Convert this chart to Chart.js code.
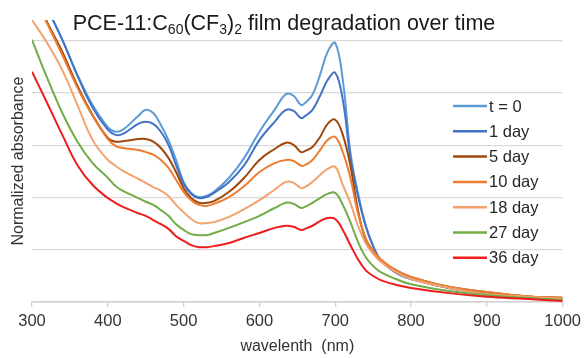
<!DOCTYPE html>
<html>
<head>
<meta charset="utf-8">
<script src="https://cdn.jsdelivr.net/npm/chart.js@4/dist/chart.umd.min.js"></script>
<style>
    html, body { margin: 0; padding: 0; background: #ffffff; }
    #wrap { width: 586px; height: 358px; position: relative; }
</style>
</head>
<body>
<div id="wrap"><canvas id="spectraChart" width="586" height="358"></canvas></div>
<script>
// ============================================
// DATA
// ============================================

const wavelengths = [300, 320, 340, 360, 380, 400, 410, 420, 440, 450, 460, 470, 480, 490, 500, 510, 520, 530, 540, 560, 580, 600, 620, 635, 645, 655, 660, 670, 680, 690, 700, 710, 720, 730, 740, 750, 760, 780, 800, 850, 900, 950, 1000];

const seriesLabels = ['t = 0', '1 day', '5 day', '10 day', '18 day', '27 day', '36 day'];
const seriesColors = ['#5b9bd5', '#4472c4', '#9e480e', '#ed7d31', '#f3a36e', '#70ad47', '#ee1c1c'];

const day0  = [6.26, 5.63, 5.02, 4.35, 3.77, 3.35, 3.26, 3.30, 3.56, 3.68, 3.62, 3.39, 3.10, 2.72, 2.30, 2.09, 2.01, 2.03, 2.11, 2.38, 2.76, 3.26, 3.68, 3.98, 3.95, 3.77, 3.81, 3.97, 4.35, 4.79, 4.96, 4.25, 2.87, 2.09, 1.48, 1.07, 0.80, 0.56, 0.44, 0.27, 0.17, 0.10, 0.06];
const day1  = [6.26, 5.63, 5.02, 4.33, 3.72, 3.30, 3.20, 3.22, 3.41, 3.45, 3.41, 3.26, 3.01, 2.62, 2.26, 2.07, 1.99, 2.01, 2.09, 2.30, 2.62, 3.10, 3.45, 3.68, 3.66, 3.52, 3.56, 3.68, 3.95, 4.25, 4.39, 3.87, 2.76, 2.03, 1.46, 1.07, 0.80, 0.56, 0.44, 0.27, 0.17, 0.10, 0.06];
const day5  = [6.00, 5.36, 4.79, 4.14, 3.58, 3.14, 3.07, 3.08, 3.12, 3.12, 3.07, 2.95, 2.76, 2.49, 2.18, 1.99, 1.90, 1.90, 1.93, 2.11, 2.38, 2.72, 2.93, 3.05, 3.01, 2.87, 2.89, 2.97, 3.16, 3.41, 3.49, 3.20, 2.61, 1.76, 1.19, 0.94, 0.79, 0.61, 0.48, 0.29, 0.19, 0.11, 0.08];
const day10 = [5.94, 5.33, 4.73, 4.10, 3.56, 3.12, 2.99, 2.95, 2.91, 2.87, 2.82, 2.72, 2.57, 2.34, 2.11, 1.95, 1.86, 1.84, 1.88, 2.01, 2.22, 2.49, 2.66, 2.72, 2.70, 2.61, 2.62, 2.72, 2.91, 3.10, 3.16, 2.87, 2.38, 1.70, 1.23, 0.98, 0.82, 0.61, 0.48, 0.29, 0.19, 0.11, 0.08];
const day18 = [5.40, 4.96, 4.44, 3.77, 3.10, 2.72, 2.61, 2.51, 2.36, 2.28, 2.20, 2.13, 2.03, 1.86, 1.72, 1.59, 1.51, 1.51, 1.53, 1.63, 1.78, 1.95, 2.15, 2.30, 2.28, 2.18, 2.20, 2.30, 2.43, 2.55, 2.59, 2.24, 1.90, 1.46, 1.13, 0.92, 0.77, 0.57, 0.44, 0.27, 0.15, 0.10, 0.06];
const day27 = [5.02, 4.29, 3.62, 3.07, 2.66, 2.38, 2.22, 2.13, 1.99, 1.92, 1.86, 1.76, 1.65, 1.49, 1.38, 1.30, 1.28, 1.28, 1.32, 1.42, 1.53, 1.65, 1.80, 1.90, 1.88, 1.80, 1.82, 1.90, 1.99, 2.07, 2.09, 1.86, 1.53, 1.15, 0.86, 0.69, 0.57, 0.44, 0.34, 0.21, 0.13, 0.08, 0.04];
const day36 = [4.41, 3.81, 3.20, 2.62, 2.24, 1.99, 1.90, 1.82, 1.70, 1.65, 1.57, 1.49, 1.40, 1.26, 1.17, 1.09, 1.05, 1.05, 1.07, 1.13, 1.23, 1.32, 1.42, 1.46, 1.44, 1.38, 1.40, 1.46, 1.55, 1.61, 1.59, 1.38, 1.09, 0.82, 0.61, 0.50, 0.42, 0.33, 0.27, 0.17, 0.10, 0.06, 0.02];

const allSeries = [day0, day1, day5, day10, day18, day27, day36];

const xTicks = [300, 400, 500, 600, 700, 800, 900, 1000];

// ============================================
// PLUGINS: title with subscripts, legend inside plot
// ============================================

const FONT = "'Liberation Sans', Arial, sans-serif";

const titlePlugin = {
    id: 'subTitle',
    afterDraw(chart) {
        const ctx = chart.ctx;
        const parts = [
            { t: 'PCE-11:C', sub: false },
            { t: '60', sub: true },
            { t: '(CF', sub: false },
            { t: '3', sub: true },
            { t: ')', sub: false },
            { t: '2', sub: true },
            { t: ' film degradation over time', sub: false }
        ];
        const big = '21.5px ' + FONT;
        const small = '14px ' + FONT;
        ctx.save();
        let total = 0;
        parts.forEach(p => {
            ctx.font = p.sub ? small : big;
            total += ctx.measureText(p.t).width;
        });
        let x = 284 - total / 2;
        const baseline = 30;
        ctx.fillStyle = '#1a1a1a';
        ctx.textBaseline = 'alphabetic';
        ctx.textAlign = 'left';
        parts.forEach(p => {
            ctx.font = p.sub ? small : big;
            ctx.fillText(p.t, x, p.sub ? baseline + 4 : baseline);
            x += ctx.measureText(p.t).width;
        });
        ctx.restore();
    }
};

const legendPlugin = {
    id: 'insideLegend',
    afterDraw(chart) {
        const ctx = chart.ctx;
        ctx.save();
        ctx.font = '16.5px ' + FONT;
        ctx.textBaseline = 'middle';
        ctx.textAlign = 'left';
        chart.data.datasets.forEach((ds, i) => {
            const y = 106 + i * 25.3;
            ctx.strokeStyle = ds.borderColor;
            ctx.lineWidth = 2.5;
            ctx.beginPath();
            ctx.moveTo(453, y);
            ctx.lineTo(487, y);
            ctx.stroke();
            ctx.fillStyle = '#262626';
            ctx.fillText(ds.label, 489, y + 1);
        });
        ctx.restore();
    }
};

// ============================================
// CHART
// ============================================

function buildDatasets() {
    return allSeries.map((values, i) => ({
        label: seriesLabels[i],
        data: values.map((v, k) => ({ x: wavelengths[k], y: v })),
        borderColor: seriesColors[i],
        backgroundColor: seriesColors[i],
        borderWidth: 2,
        pointRadius: 0,
        tension: 0.4,
        order: allSeries.length - i
    }));
}

window.addEventListener('DOMContentLoaded', () => {
    const ctx = document.getElementById('spectraChart').getContext('2d');
    new Chart(ctx, {
        type: 'line',
        data: { datasets: buildDatasets() },
        options: {
            responsive: false,
            animation: false,
            layout: { padding: { top: 20, right: 23, left: 0, bottom: 0 } },
            plugins: {
                legend: { display: false },
                title: { display: false },
                tooltip: { enabled: false }
            },
            scales: {
                x: {
                    type: 'linear',
                    min: 300,
                    max: 1000,
                    afterBuildTicks: scale => { scale.ticks = xTicks.map(v => ({ value: v })); },
                    afterFit: scale => { scale.height = 56; },
                    grid: { drawOnChartArea: false, drawTicks: true, tickLength: 5, color: '#d0d0d0', lineWidth: 1.3 },
                    border: { display: true, color: '#d0d0d0', width: 1.5 },
                    ticks: { color: '#333333', font: { size: 16.5, family: FONT }, padding: 5, maxRotation: 0, callback: v => String(v) },
                    title: { display: true, text: 'wavelenth  (nm)', color: '#333333', font: { size: 16, family: FONT }, padding: { top: 0, bottom: 2 } }
                },
                y: {
                    min: 0,
                    max: 5.4,
                    afterBuildTicks: scale => { scale.ticks = scale.ticks.filter(t => Number.isInteger(t.value)); },
                    afterFit: scale => { scale.width = 32; },
                    ticks: { display: false, stepSize: 1 },
                    grid: { color: '#d9d9d9', lineWidth: 1.3, drawTicks: false },
                    border: { display: false },
                    title: { display: true, text: 'Normalized absorbance', color: '#333333', font: { size: 16, family: FONT }, padding: { top: 9, bottom: 0 } }
                }
            }
        },
        plugins: [titlePlugin, legendPlugin]
    });
});
</script>
</body>
</html>
